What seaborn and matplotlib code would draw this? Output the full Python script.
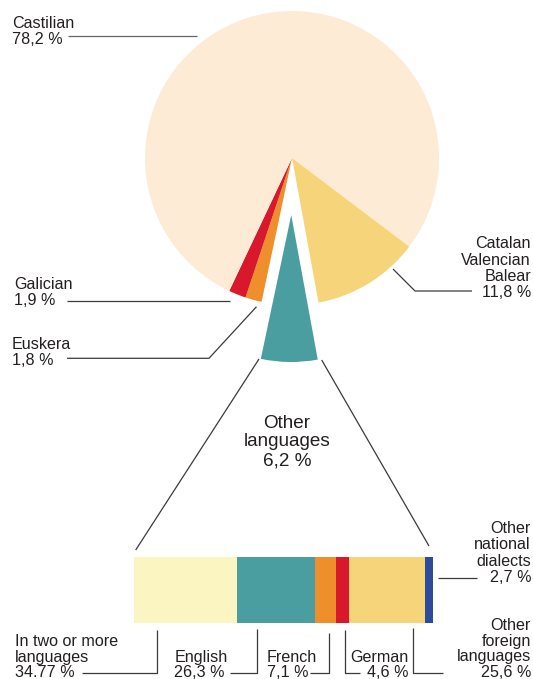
import matplotlib
matplotlib.use("Agg")
import numpy as np
import seaborn as sns
import matplotlib.pyplot as plt

# %% data
pie_labels = ["Other languages", "Euskera", "Galician", "Castilian", "Catalan Valencian Balear"]
pie_values = [6.2, 1.8, 1.9, 78.2, 11.8]
pie_colors = ["#4a9ea0", "#ee8f2b", "#d7192b", "#fdebd6", "#f6d479"]

bar_labels = ["In two or more languages", "English", "French", "German",
              "Other foreign languages", "Other national dialects"]
bar_values = [34.77, 26.3, 7.1, 4.6, 25.6, 2.7]
bar_value_text = ["34.77 %", "26,3 %", "7,1 %", "4,6 %", "25,6 %", "2,7 %"]
bar_colors = ["#faf5c1", "#4a9ea0", "#ee8f2b", "#d7192b", "#f6d479", "#2e4b9b"]

# %% style
sns.set_theme(style="white")
plt.rcParams["font.family"] = ["Liberation Sans", "DejaVu Sans"]

W, H = 533, 679
TXT = "#231f20"
LINE = "#3a3a3a"
FS = 11.6

fig = plt.figure(figsize=(W / 100, H / 100), dpi=100)
ax = fig.add_axes([0, 0, 1, 1])

def Y(y):
    return H - y

def label(x, y_last, lines, ha="left", fs=FS, step=16.2):
    # y_last = baseline of the last line, in pixels from the top
    n = len(lines)
    for i, t in enumerate(lines):
        ax.text(x, Y(y_last - (n - 1 - i) * step), t, ha=ha, va="baseline",
                fontsize=fs, color=TXT)

def leader(xs, ys, color=LINE):
    ax.plot(xs, [Y(y) for y in ys], color=color, lw=0.9, solid_capstyle="butt")

# %% pie (explode is in data units here since radius != 1)
ax.pie(pie_values, colors=pie_colors, startangle=-79.6, counterclock=False,
       explode=[57, 0, 0, 0, 0], center=(292, Y(158)), radius=147,
       wedgeprops=dict(linewidth=0))
ax.set_xlim(0, W)
ax.set_ylim(0, H)
ax.set_aspect("auto")
ax.axis("off")

# pie labels
label(12, 44, ["Castilian", "78,2 %"])
leader([68, 197], [36, 36], color="#666666")

label(531, 297, ["Catalan", "Valencian", "Balear", "11,8 %"], ha="right")
leader([393, 415, 472], [269, 291, 291])

label(14, 305, ["Galician", "1,9 %"])
leader([67, 230], [300.7, 300.7])

label(12, 365, ["Euskera", "1,8 %"])
leader([67, 209, 256.5], [358.3, 358.3, 306.7])

label(287, 465, ["Other", "languages", "6,2 %"], ha="center", fs=13.6, step=18.5)

# connectors from the wedge to the bar
leader([259, 135.7], [359, 550])
leader([321.7, 429], [360, 546])

# %% stacked bar
bx0, bx1, by0, by1 = 134.3, 432.7, 556.7, 623.3
bax = fig.add_axes([bx0 / W, (H - by1) / H, (bx1 - bx0) / W, (by1 - by0) / H])
lefts = np.concatenate([[0], np.cumsum(bar_values)[:-1]])
bax.barh([0] * len(bar_values), bar_values, left=lefts, height=1.0,
         color=bar_colors, linewidth=0)
bax.set_xlim(0, sum(bar_values))
bax.set_ylim(-0.5, 0.5)
bax.axis("off")

# bar labels
label(15, 677, ["In two or more", "languages", bar_value_text[0]], step=15.3)
leader([81.7, 156.7, 156.7], [673.3, 673.3, 630])

label(174.3, 677, ["English", bar_value_text[1]], step=15.3)
leader([230, 256.7, 256.7], [673.3, 673.3, 629])

label(266.7, 677, ["French", bar_value_text[2]], step=15.3)
leader([310, 329, 329], [673.3, 673.3, 633])

label(408.3, 677, ["German", bar_value_text[3]], ha="right", step=15.3)
leader([345, 345, 360], [630, 673.3, 673.3])

label(531, 677, ["Other", "foreign", "languages", bar_value_text[4]], ha="right", step=15.5)
leader([413.3, 413.3, 443], [628, 673.3, 673.3])

label(531, 581.7, ["Other", "national", "dialects", bar_value_text[5]], ha="right", step=16.2)
leader([437.7, 476.7], [578.3, 578.3])

fig.savefig("out.png", dpi=100)
